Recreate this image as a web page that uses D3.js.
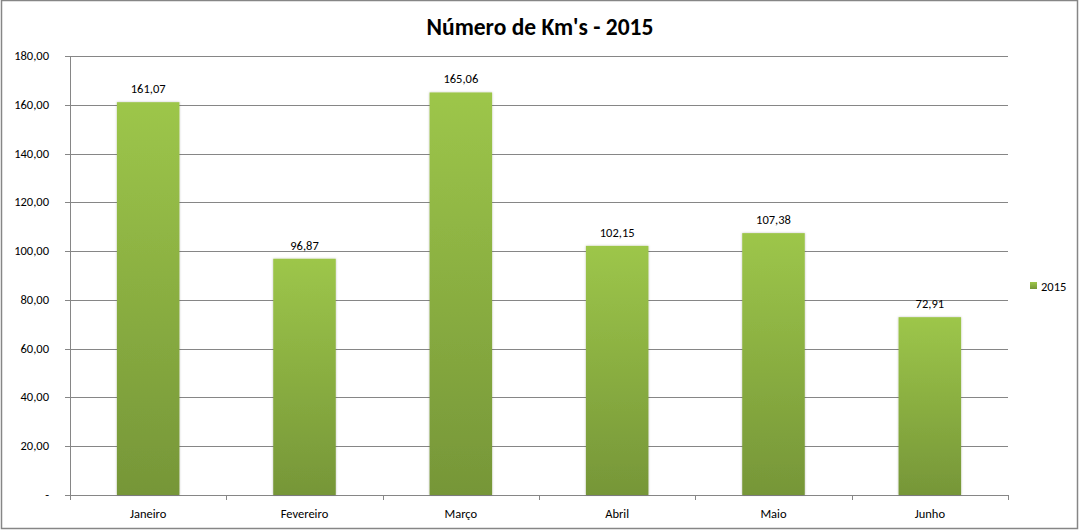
<!DOCTYPE html>
<html><head><meta charset="utf-8">
<script src="https://cdn.jsdelivr.net/npm/d3@7"></script>
<style>body{margin:0;background:#fff}svg{display:block}</style>
</head><body>
<svg id="c" width="1082" height="530"></svg>
<script>
const categories = ["Janeiro","Fevereiro","Março","Abril","Maio","Junho"];
const values2015 = [161.07, 96.87, 165.06, 102.15, 107.38, 72.91];
const yTicks = [0,20,40,60,80,100,120,140,160,180];
const seriesName = "2015";
const title = "Número de Km's - 2015";

const svg = d3.select("#c");
const font = "Calibri, Carlito, 'Open Sans', sans-serif";
const m = {l:70, r:1008, t:56, b:495};

svg.append("rect").attr("x",1.5).attr("y",0.5).attr("width",1076).attr("height",528)
  .attr("fill","#fff").attr("stroke","#868686").attr("stroke-width",1.5);

const defs = svg.append("defs");
const g = defs.append("linearGradient").attr("id","bg").attr("x1",0).attr("y1",0).attr("x2",0).attr("y2",1);
g.append("stop").attr("offset","0%").attr("stop-color","#9dc64a");
g.append("stop").attr("offset","100%").attr("stop-color","#769638");
const f = defs.append("filter").attr("id","sh").attr("x","-10%").attr("y","-5%").attr("width","120%").attr("height","110%");
f.append("feDropShadow").attr("dx",0).attr("dy",0).attr("stdDeviation",1.2).attr("flood-color","#000").attr("flood-opacity",0.25);

const x = d3.scaleBand().domain(categories).range([m.l,m.r]).paddingInner(0.6).paddingOuter(0.3);
const y = d3.scaleLinear().domain([0,180]).range([m.b,m.t]);

// gridlines
svg.append("g").selectAll("line").data(yTicks).join("line")
  .attr("x1",m.l-5).attr("x2",m.r).attr("y1",d=>Math.round(y(d))+0.5).attr("y2",d=>Math.round(y(d))+0.5)
  .attr("stroke","#868686").attr("stroke-width",1);

// y axis
svg.append("line").attr("x1",m.l+0.5).attr("x2",m.l+0.5).attr("y1",m.t).attr("y2",m.b+5).attr("stroke","#868686");
const fmt = d => d===0 ? "-" : d.toFixed(2).replace(".",",");
svg.append("g").selectAll("text").data(yTicks).join("text")
  .attr("x",49).attr("y",d=>y(d)+4).attr("text-anchor","end")
  .attr("font-family",font).attr("font-size",12.5).attr("fill","#000").text(fmt);

// x ticks at band boundaries
const bounds = d3.range(categories.length+1).map(i => m.l + i*(m.r-m.l)/categories.length);
svg.append("g").selectAll("line").data(bounds).join("line")
  .attr("x1",d=>Math.round(d)+0.5).attr("x2",d=>Math.round(d)+0.5).attr("y1",m.b).attr("y2",m.b+5)
  .attr("stroke","#868686");

// bars
svg.append("g").selectAll("rect").data(values2015).join("rect")
  .attr("x",(d,i)=>x(categories[i])).attr("width",x.bandwidth())
  .attr("y",d=>y(d)).attr("height",d=>y(0)-y(d))
  .attr("fill","url(#bg)").attr("filter","url(#sh)");

// value labels
svg.append("g").selectAll("text").data(values2015).join("text")
  .attr("x",(d,i)=>x(categories[i])+x.bandwidth()/2).attr("y",d=>y(d)-9)
  .attr("text-anchor","middle").attr("font-family",font).attr("font-size",12.5).attr("fill","#000")
  .text(d=>d.toFixed(2).replace(".",","));

// category labels
svg.append("g").selectAll("text").data(categories).join("text")
  .attr("x",d=>x(d)+x.bandwidth()/2).attr("y",518)
  .attr("text-anchor","middle").attr("font-family",font).attr("font-size",12.5).attr("fill","#000").text(d=>d);

// title
svg.append("text").attr("x",540).attr("y",35).attr("text-anchor","middle")
  .attr("font-family",font).attr("font-size",23.5).attr("font-weight","bold").attr("fill","#000").text(title);

// legend
svg.append("rect").attr("x",1030).attr("y",282).attr("width",7).attr("height",7).attr("fill","url(#bg)");
svg.append("text").attr("x",1041).attr("y",291).attr("font-family",font).attr("font-size",12.5).attr("fill","#000").text(seriesName);
</script>
</body></html>
